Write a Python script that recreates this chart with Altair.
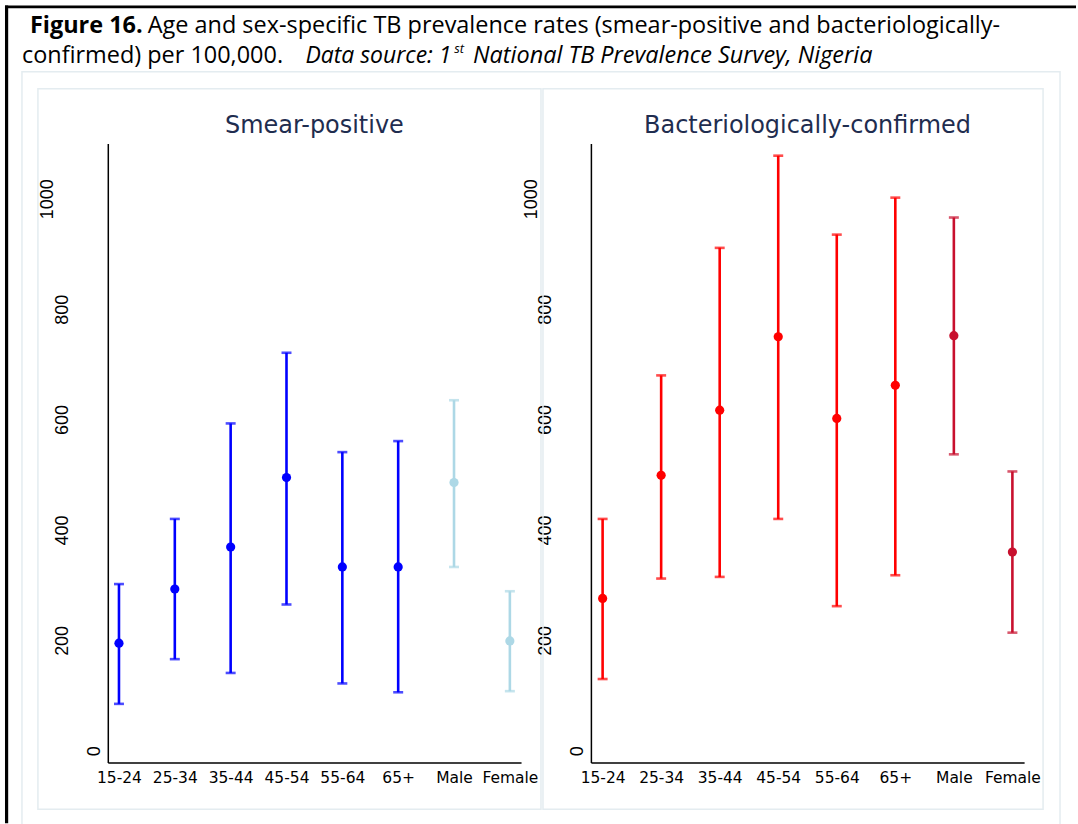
import altair as alt
import pandas as pd

# ---------------- data ----------------
categories = ["15-24", "25-34", "35-44", "45-54", "55-64", "65+", "Male", "Female"]

smear_est = [195, 293, 369, 495, 333, 333, 486, 199]
smear_lo = [85, 166, 141, 265, 122, 106, 333, 108]
smear_hi = [302, 420, 593, 721, 541, 561, 635, 289]

bact_est = [276, 499, 617, 750, 602, 662, 752, 360]
bact_lo = [130, 312, 315, 420, 262, 318, 537, 214]
bact_hi = [420, 680, 911, 1078, 935, 1002, 966, 506]

y_ticks = [0, 200, 400, 600, 800, 1000]
panel_titles = ["Smear-positive", "Bacteriologically-confirmed"]

# ---------------- styling ----------------
BLUE, LTBLUE = "#0000FF", "#ADD8E6"
RED, CRIMSON = "#FF0000", "#C8102E"
FRAME = "#E4ECF0"
TITLE_COL = "#1F2D4F"
Y_DOMAIN = [-21, 1100]
H = 620
W_LEFT, W_RIGHT = 414, 434
OX, OY = 108, 143  # page position of the left plot area


def panel_df(est, lo, hi, c_age, c_sex):
    return pd.DataFrame({
        "cat": categories, "est": est, "lo": lo, "hi": hi,
        "color": [c_age] * 6 + [c_sex] * 2,
    })


one = pd.DataFrame({"k": [0]})


def frame_rect(x, x2, y, y2, color, width, opacity=1):
    return alt.Chart(one).mark_rect(
        fill="white", fillOpacity=0, stroke=color, strokeWidth=width, strokeOpacity=opacity
    ).encode(x=alt.value(x), x2=alt.value(x2), y=alt.value(y), y2=alt.value(y2))


def text(t, x, y, size, weight="normal", style="normal", color="#000000",
         font="Open Sans", align="left"):
    return alt.Chart(one).mark_text(
        text=t, align=align, baseline="alphabetic", font=font, fontSize=size,
        fontWeight=weight, fontStyle=style, color=color
    ).encode(x=alt.value(x), y=alt.value(y))


def data_layers(df):
    xenc = alt.X(
        "cat:N", sort=categories,
        scale=alt.Scale(type="point", padding=0.2),
        axis=alt.Axis(
            title=None, labelAngle=0, ticks=False, grid=False,
            domainColor="#000000", domainWidth=1.5,
            labelFont="DejaVu Sans", labelFontSize=15.5, labelColor="#000000",
            labelPadding=8,
        ),
    )
    yscale = alt.Scale(domain=Y_DOMAIN, nice=False, zero=False)
    yaxis = alt.Axis(
        title=None, values=y_ticks, format="d", labelAngle=270, labelAlign="center",
        labelBaseline="alphabetic", ticks=False, grid=False,
        domainColor="#000000", domainWidth=1.5,
        labelFont="Liberation Sans", labelFontSize=18, labelColor="#000000",
        labelPadding={
            "condition": [
                {"test": "datum.value == 0", "value": 8},
                {"test": "datum.value == 1000", "value": 55},
            ],
            "value": 40,
        },
    )
    col = alt.Color("color:N", scale=None, legend=None)
    base = alt.Chart(df)
    bars = base.mark_rule(strokeWidth=2.6).encode(
        x=xenc, y=alt.Y("lo:Q", scale=yscale, axis=yaxis), y2="hi:Q", color=col)
    cap_lo = base.mark_tick(thickness=2.6, size=10).encode(
        x=alt.X("cat:N", sort=categories), y=alt.Y("lo:Q"), color=col)
    cap_hi = base.mark_tick(thickness=2.6, size=10).encode(
        x=alt.X("cat:N", sort=categories), y=alt.Y("hi:Q"), color=col)
    pts = base.mark_circle(size=85, opacity=1).encode(
        x=alt.X("cat:N", sort=categories), y=alt.Y("est:Q"), color=col)
    return [bars, cap_lo, cap_hi, pts]


# coordinates below are page pixels minus the left plot origin (OX, OY)
left_deco = [
    # invisible canvas-sized box: fixes the page origin with autosize "pad"
    frame_rect(-OX, 1078 - OX, -OY, 824 - OY, "#FFFFFF", 0, opacity=0),
    frame_rect(22 - OX, 1062 - OX, 71 - OY, 860 - OY, FRAME, 1.5),   # outer graph region
    frame_rect(38 - OX, 542 - OX, 88 - OY, 810 - OY, FRAME, 1.5),    # left panel region
    alt.Chart(one).mark_rule(color="#000000", strokeWidth=3.2).encode(
        x=alt.value(6.6 - OX), y=alt.value(4.6 - OY), y2=alt.value(824 - OY)),
    alt.Chart(one).mark_rule(color="#000000", strokeWidth=2.8).encode(
        x=alt.value(5 - OX), x2=alt.value(1078 - OX), y=alt.value(6 - OY)),
    text("Figure 16.", 30 - OX, 32 - OY, 23.5, weight="bold"),
    text("Age and sex-specific TB prevalence rates (smear-positive and bacteriologically-",
         148 - OX, 32 - OY, 23.5),
    text("confirmed) per 100,000.", 22 - OX, 62 - OY, 23.5),
    text("Data source: 1", 306 - OX, 62 - OY, 23, style="italic"),
    text("st", 455 - OX, 52 - OY, 13, style="italic"),
    text("National TB Prevalence Survey, Nigeria", 474 - OX, 62 - OY, 23.5, style="italic"),
    text(panel_titles[0], W_LEFT / 2, 132 - OY, 24, color=TITLE_COL, font="DejaVu Sans",
         align="center"),
]
right_deco = [
    frame_rect(544 - 592, 1045 - 592, 88 - OY, 810 - OY, FRAME, 1.5),
    text(panel_titles[1], W_RIGHT / 2, 132 - OY, 24, color=TITLE_COL, font="DejaVu Sans",
         align="center"),
]

left = alt.layer(
    *left_deco, *data_layers(panel_df(smear_est, smear_lo, smear_hi, BLUE, LTBLUE))
).properties(width=W_LEFT, height=H)

right = alt.layer(
    *right_deco, *data_layers(panel_df(bact_est, bact_lo, bact_hi, RED, CRIMSON))
).properties(width=W_RIGHT, height=H)

chart = alt.hconcat(left, right, spacing=70, bounds="flush").properties(
    padding=0,
    background="white",
).configure_view(strokeWidth=0)

chart.save("out.html", embed_options={"renderer": "svg", "actions": False})
